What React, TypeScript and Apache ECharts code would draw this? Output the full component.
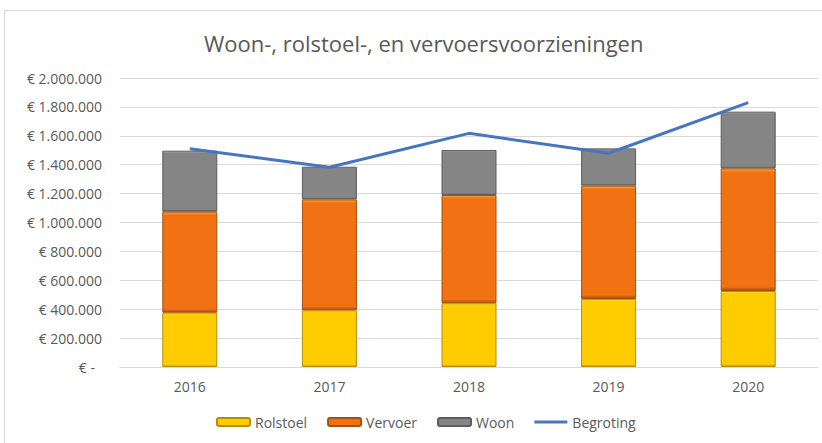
import React, { useEffect, useRef } from "react";
import * as echarts from "echarts";

const years = ["2016", "2017", "2018", "2019", "2020"];
const rolstoel = [376000, 392000, 441000, 471000, 526000];
const vervoer = [699000, 768000, 749000, 784000, 849000];
const woon = [422000, 226000, 312000, 258000, 392000];
const begroting = [1510000, 1382000, 1617000, 1479000, 1829000];

const FONT = "'Open Sans', 'Noto Sans', sans-serif";
const TXT = "#595959";
const LINE = "#4677BE";

function fmt(v: number): string {
  if (v === 0) return "{z|€ -}";
  const s = Math.round(v).toString().replace(/\B(?=(\d{3})+(?!\d))/g, ".");
  return "€ " + s;
}

function bevel(main: string, light: string, dark: string) {
  return {
    color: new echarts.graphic.LinearGradient(0, 0, 0, 1, [
      { offset: 0, color: light },
      { offset: 0.03, color: main },
      { offset: 0.97, color: main },
      { offset: 1, color: dark },
    ]),
    borderColor: dark,
    borderWidth: 1,
  };
}

export default function App() {
  const ref = useRef<HTMLDivElement>(null);
  useEffect(() => {
    if (!ref.current) return;
    const chart = echarts.init(ref.current, null, { renderer: "svg" });
    chart.setOption({
      animation: false,
      backgroundColor: "#ffffff",
      title: {
        text: "Woon-, rolstoel-, en vervoersvoorzieningen",
        left: 199,
        top: 27,
        textStyle: { fontFamily: FONT, fontSize: 22, fontWeight: "normal", color: TXT },
      },
      graphic: [
        {
          type: "rect",
          shape: { x: 4.5, y: 10.5, width: 840, height: 460 },
          style: { fill: "none", stroke: "#D9D9D9", lineWidth: 1 },
          silent: true,
        },
      ],
      grid: { left: 120, right: 4, top: 78, bottom: 76, containLabel: false },
      legend: {
        bottom: 9,
        left: 211,
        itemWidth: 33,
        itemHeight: 8,
        itemGap: 20,
        textStyle: { fontFamily: FONT, fontSize: 14, color: TXT },
        data: [
          "Rolstoel",
          "Vervoer",
          "Woon",
          { name: "Begroting", icon: "path://M0,0 L33,0 L33,3 L0,3 Z" },
        ],
      },
      xAxis: {
        type: "category",
        data: years,
        axisLine: { lineStyle: { color: "#D9D9D9" } },
        axisTick: { show: false },
        axisLabel: { fontFamily: FONT, fontSize: 14, color: TXT, margin: 12 },
      },
      yAxis: {
        type: "value",
        min: 0,
        max: 2000000,
        interval: 200000,
        axisLine: { show: false },
        axisTick: { show: false },
        splitLine: { lineStyle: { color: "#D9D9D9" } },
        axisLabel: {
          fontFamily: FONT,
          fontSize: 14,
          color: TXT,
          margin: 18,
          formatter: fmt,
          rich: { z: { fontFamily: FONT, fontSize: 14, color: TXT, padding: [0, 7, 0, 0] } },
        },
      },
      series: [
        {
          name: "Rolstoel",
          type: "bar",
          stack: "s",
          barWidth: 55,
          data: rolstoel,
          itemStyle: bevel("#FFCC00", "#FFE94D", "#B38F00"),
        },
        {
          name: "Vervoer",
          type: "bar",
          stack: "s",
          barWidth: 55,
          data: vervoer,
          itemStyle: bevel("#F07212", "#FFA040", "#A84F0C"),
        },
        {
          name: "Woon",
          type: "bar",
          stack: "s",
          barWidth: 55,
          data: woon,
          itemStyle: bevel("#858585", "#B0B0B0", "#5C5C5C"),
        },
        {
          name: "Begroting",
          type: "line",
          data: begroting,
          symbol: "none",
          lineStyle: { color: LINE, width: 3 },
          itemStyle: { color: LINE },
        },
      ],
    });
    return () => chart.dispose();
  }, []);
  return (
    <div
      ref={ref}
      style={{ position: "absolute", left: 0, top: 0, width: 822, height: 443 }}
    />
  );
}
